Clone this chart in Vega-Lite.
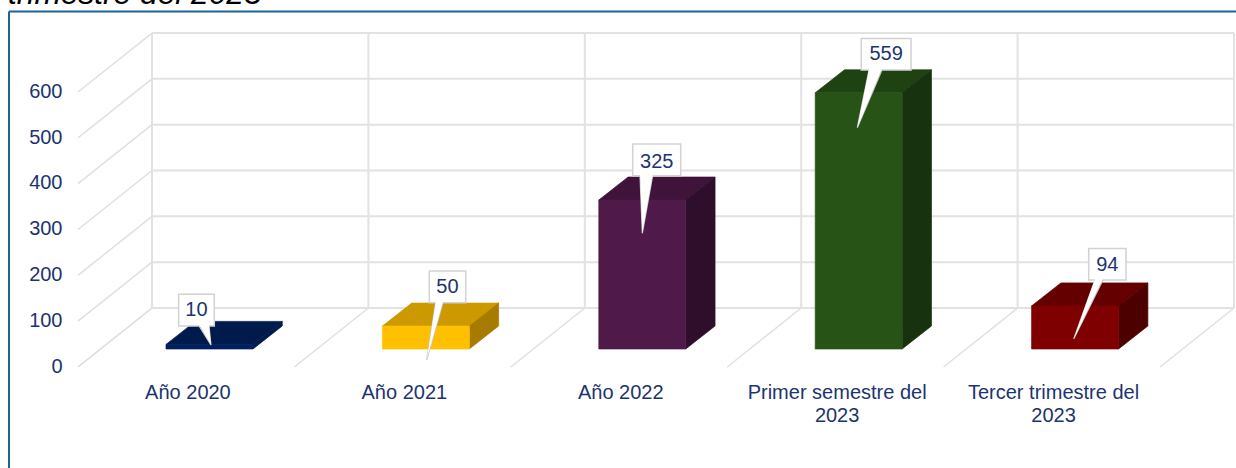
{
  "$schema": "https://vega.github.io/schema/vega-lite/v6.json",
  "width": 1236,
  "height": 468,
  "padding": 0,
  "autosize": {"type": "none"},
  "background": "#ffffff",
  "config": {
    "view": {"stroke": null},
    "axisX": {"disable": true},
    "axisY": {"title": null, "domain": false, "ticks": false, "grid": false, "labelFont": "Liberation Sans", "labelFontSize": 20, "labelColor": "#1c3470", "labelPadding": 0, "offset": -62, "labelOffset": -0.8}
  },
  "datasets": {
    "periodos": [
      {"periodo": "Año 2020", "orden": 0, "casos": 10},
      {"periodo": "Año 2021", "orden": 1, "casos": 50},
      {"periodo": "Año 2022", "orden": 2, "casos": 325},
      {"periodo": "Primer semestre del\n2023", "orden": 3, "casos": 559},
      {"periodo": "Tercer trimestre del\n2023", "orden": 4, "casos": 94}
    ],
    "niveles": [{"nivel": 0}, {"nivel": 100}, {"nivel": 200}, {"nivel": 300}, {"nivel": 400}, {"nivel": 500}, {"nivel": 600}],
    "paredes": [{"pared": 0}, {"pared": 1}, {"pared": 2}, {"pared": 3}, {"pared": 4}, {"pared": 5}]
  },
  "resolve": {"scale": {"color": "independent", "stroke": "independent"}},
  "layer": [
    {
      "description": "Back wall horizontal grid lines",
      "data": {"name": "niveles"},
      "transform": [{"calculate": "datum.nivel + 128.7", "as": "yFondo"}, {"calculate": "0.342", "as": "x0"}, {"calculate": "5.342", "as": "x1"}],
      "mark": {"type": "rule", "stroke": "#e2e2e2", "strokeWidth": 2},
      "encoding": {
        "x": {"field": "x0", "type": "quantitative", "scale": {"domain": [-0.3604, 5.3512], "nice": false, "zero": false}},
        "x2": {"field": "x1"},
        "y": {"field": "yFondo", "type": "quantitative", "scale": {"domain": [-220.4, 800.8], "nice": false, "zero": false}, "axis": {"values": [0, 100, 200, 300, 400, 500, 600]}}
      }
    },
    {
      "description": "Back wall verticals, one per category boundary",
      "data": {"name": "paredes"},
      "transform": [{"calculate": "datum.pared + 0.342", "as": "xFondo"}, {"calculate": "128.7", "as": "y0"}, {"calculate": "728.7", "as": "y1"}],
      "mark": {"type": "rule", "stroke": "#e2e2e2", "strokeWidth": 2},
      "encoding": {
        "x": {"field": "xFondo", "type": "quantitative"},
        "y": {"field": "y0", "type": "quantitative"},
        "y2": {"field": "y1"}
      }
    },
    {
      "description": "Left wall diagonals",
      "data": {"name": "niveles"},
      "transform": [{"calculate": "datum.nivel + 128.7", "as": "yFondo"}, {"calculate": "0", "as": "x0"}, {"calculate": "0.342", "as": "x1"}],
      "mark": {"type": "rule", "stroke": "#e0e0e0", "strokeWidth": 1.5},
      "encoding": {
        "x": {"field": "x0", "type": "quantitative"},
        "x2": {"field": "x1"},
        "y": {"field": "nivel", "type": "quantitative"},
        "y2": {"field": "yFondo"}
      }
    },
    {
      "description": "Floor diagonals",
      "data": {"name": "paredes"},
      "transform": [{"calculate": "datum.pared + 0.342", "as": "xFondo"}, {"calculate": "0", "as": "y0"}, {"calculate": "128.7", "as": "y1"}],
      "mark": {"type": "rule", "stroke": "#e0e0e0", "strokeWidth": 1.5},
      "encoding": {
        "x": {"field": "pared", "type": "quantitative"},
        "x2": {"field": "xFondo"},
        "y": {"field": "y0", "type": "quantitative"},
        "y2": {"field": "y1"}
      }
    },
    {
      "description": "Frame of the panel, top and left edges",
      "data": {"values": [{"xBorde": -0.3189, "yBorde": 775.7, "xFin": 5.3512, "yFin": -220.4}]},
      "mark": {"type": "rule", "stroke": "#1b6490", "strokeWidth": 2},
      "encoding": {
        "x": {"field": "xBorde", "type": "quantitative"},
        "x2": {"field": "xFin"},
        "y": {"field": "yBorde", "type": "quantitative"}
      }
    },
    {
      "data": {"values": [{"xBorde": -0.3189, "yBorde": 775.7, "yFin": -220.4}]},
      "mark": {"type": "rule", "stroke": "#1b6490", "strokeWidth": 2},
      "encoding": {
        "x": {"field": "xBorde", "type": "quantitative"},
        "y": {"field": "yBorde", "type": "quantitative"},
        "y2": {"field": "yFin"}
      }
    },
    {
      "description": "Last line of the heading above the panel",
      "data": {"values": [{"titulo": "trimestre del 2023", "xTitulo": -0.3235, "yTitulo": 793}]},
      "mark": {"type": "text", "font": "Liberation Sans", "fontStyle": "italic", "fontSize": 31.7, "color": "#000000", "align": "left", "baseline": "alphabetic"},
      "encoding": {
        "x": {"field": "xTitulo", "type": "quantitative"},
        "y": {"field": "yTitulo", "type": "quantitative"},
        "text": {"field": "titulo"}
      }
    },
    {
      "description": "Top face of each column",
      "data": {"name": "periodos"},
      "transform": [
        {"calculate": "[0, 1]", "as": "k"},
        {"flatten": ["k"]},
        {"calculate": "datum.orden + 0.4067 + datum.k * 0.1354", "as": "xA"},
        {"calculate": "datum.orden + 0.8085 + datum.k * 0.1354", "as": "xB"},
        {"calculate": "datum.casos + 39.3 + datum.k * 50.2", "as": "yT"}
      ],
      "mark": {"type": "area", "orient": "horizontal", "strokeWidth": 0.7},
      "encoding": {
        "y": {"field": "yT", "type": "quantitative"},
        "x": {"field": "xA", "type": "quantitative"},
        "x2": {"field": "xB"},
        "color": {"field": "orden", "type": "nominal", "legend": null, "scale": {"domain": [0, 1, 2, 3, 4], "range": ["#001a4c", "#cc9a00", "#3f133a", "#1f4212", "#650000"]}},
        "stroke": {"field": "orden", "type": "nominal", "legend": null, "scale": {"domain": [0, 1, 2, 3, 4], "range": ["#001a4c", "#cc9a00", "#3f133a", "#1f4212", "#650000"]}}
      }
    },
    {
      "description": "Side face of each column",
      "data": {"name": "periodos"},
      "transform": [
        {"calculate": "[0, 1]", "as": "k"},
        {"flatten": ["k"]},
        {"calculate": "datum.orden + 0.8085 + datum.k * 0.1354", "as": "xS"},
        {"calculate": "datum.casos + 39.3 + datum.k * 50.2", "as": "yT"},
        {"calculate": "39.3 + datum.k * 50.2", "as": "yB"}
      ],
      "mark": {"type": "area", "orient": "vertical", "strokeWidth": 0.7},
      "encoding": {
        "x": {"field": "xS", "type": "quantitative"},
        "y": {"field": "yT", "type": "quantitative"},
        "y2": {"field": "yB"},
        "color": {"field": "orden", "type": "nominal", "legend": null, "scale": {"domain": [0, 1, 2, 3, 4], "range": ["#001a4c", "#a67b00", "#2f0e2c", "#17320e", "#4c0000"]}},
        "stroke": {"field": "orden", "type": "nominal", "legend": null, "scale": {"domain": [0, 1, 2, 3, 4], "range": ["#001a4c", "#a67b00", "#2f0e2c", "#17320e", "#4c0000"]}}
      }
    },
    {
      "description": "Front face of each column",
      "data": {"name": "periodos"},
      "transform": [
        {"calculate": "datum.orden + 0.4067", "as": "xA"},
        {"calculate": "datum.orden + 0.8085", "as": "xB"},
        {"calculate": "datum.casos + 39.3", "as": "yT"},
        {"calculate": "39.3", "as": "yB"}
      ],
      "mark": {"type": "rect", "strokeWidth": 0.7},
      "encoding": {
        "x": {"field": "xA", "type": "quantitative"},
        "x2": {"field": "xB"},
        "y": {"field": "yT", "type": "quantitative"},
        "y2": {"field": "yB"},
        "color": {"field": "orden", "type": "nominal", "legend": null, "scale": {"domain": [0, 1, 2, 3, 4], "range": ["#002060", "#ffc000", "#4f1a4a", "#275317", "#7f0000"]}},
        "stroke": {"field": "orden", "type": "nominal", "legend": null, "scale": {"domain": [0, 1, 2, 3, 4], "range": ["#002060", "#ffc000", "#4f1a4a", "#275317", "#7f0000"]}}
      }
    },
    {
      "description": "Category labels under the floor",
      "data": {"name": "periodos"},
      "transform": [{"calculate": "datum.orden + 0.508", "as": "xEtiqueta"}, {"calculate": "-56", "as": "yEtiqueta"}],
      "mark": {"type": "text", "font": "Liberation Sans", "fontSize": 20, "color": "#1c3470", "baseline": "middle", "align": "center", "lineBreak": "\n", "lineHeight": 23},
      "encoding": {
        "x": {"field": "xEtiqueta", "type": "quantitative"},
        "y": {"field": "yEtiqueta", "type": "quantitative"},
        "text": {"field": "periodo"}
      }
    },
    {
      "description": "Callout boxes",
      "data": {"name": "periodos"},
      "transform": [
        {"calculate": "datum.orden + [0.4653, 0.6234, 0.5633, 0.6197, 0.6705][datum.orden]", "as": "cajaA"},
        {"calculate": "datum.orden + [0.6299, 0.7916, 0.7851, 0.8494, 0.8429][datum.orden]", "as": "cajaB"},
        {"calculate": "[89.5, 140.3, 417.4, 648.0, 189.8][datum.orden]", "as": "cajaY"},
        {"calculate": "datum.cajaY + 69", "as": "cajaT"}
      ],
      "mark": {"type": "rect", "fill": "#ffffff", "stroke": "#d2d2d2", "strokeWidth": 1.5},
      "encoding": {
        "x": {"field": "cajaA", "type": "quantitative"},
        "x2": {"field": "cajaB"},
        "y": {"field": "cajaY", "type": "quantitative"},
        "y2": {"field": "cajaT"}
      }
    },
    {
      "description": "Outline of the callout pointers",
      "data": {"name": "periodos"},
      "transform": [
        {"calculate": "[0, 1, 2]", "as": "k"},
        {"flatten": ["k"]},
        {"calculate": "datum.orden + [0.5591, 0.6530, 0.5970, 0.6553, 0.6996][datum.orden]", "as": "a"},
        {"calculate": "datum.orden + [0.6054, 0.6867, 0.6557, 0.7153, 0.7366][datum.orden]", "as": "b"},
        {"calculate": "datum.orden + [0.6146, 0.6114, 0.6077, 0.6012, 0.6012][datum.orden]", "as": "p"},
        {"calculate": "[89.5, 140.3, 417.4, 648.0, 189.8][datum.orden]", "as": "cajaY"},
        {"calculate": "[48.0, 15.3, 291.7, 522.1, 61.1][datum.orden]", "as": "puntaY"},
        {"calculate": "[datum.a, datum.p, datum.b][datum.k]", "as": "xL"},
        {"calculate": "[datum.cajaY, datum.puntaY, datum.cajaY][datum.k]", "as": "yL"}
      ],
      "mark": {"type": "line", "stroke": "#c4c4c4", "strokeWidth": 1.2},
      "encoding": {
        "x": {"field": "xL", "type": "quantitative"},
        "y": {"field": "yL", "type": "quantitative"},
        "detail": {"field": "orden"},
        "order": {"field": "k"}
      }
    },
    {
      "description": "White body of the callout pointers",
      "data": {"name": "periodos"},
      "transform": [
        {"calculate": "[0, 1]", "as": "k"},
        {"flatten": ["k"]},
        {"calculate": "datum.orden + [0.5591, 0.6530, 0.5970, 0.6553, 0.6996][datum.orden]", "as": "a"},
        {"calculate": "datum.orden + [0.6054, 0.6867, 0.6557, 0.7153, 0.7366][datum.orden]", "as": "b"},
        {"calculate": "datum.orden + [0.6146, 0.6114, 0.6077, 0.6012, 0.6012][datum.orden]", "as": "p"},
        {"calculate": "[89.5, 140.3, 417.4, 648.0, 189.8][datum.orden]", "as": "cajaY"},
        {"calculate": "[48.0, 15.3, 291.7, 522.1, 61.1][datum.orden]", "as": "puntaY"},
        {"calculate": "datum.a + datum.k * (datum.p - datum.a)", "as": "xA"},
        {"calculate": "datum.b + datum.k * (datum.p - datum.b)", "as": "xB"},
        {"calculate": "datum.cajaY + 2 + datum.k * (datum.puntaY - datum.cajaY - 2)", "as": "yT"}
      ],
      "mark": {"type": "area", "orient": "horizontal", "fill": "#ffffff"},
      "encoding": {
        "y": {"field": "yT", "type": "quantitative"},
        "x": {"field": "xA", "type": "quantitative"},
        "x2": {"field": "xB"},
        "detail": {"field": "orden"}
      }
    },
    {
      "description": "Value printed inside each callout",
      "data": {"name": "periodos"},
      "transform": [
        {"calculate": "datum.orden + ([0.4653, 0.6234, 0.5633, 0.6197, 0.6705][datum.orden] + [0.6299, 0.7916, 0.7851, 0.8494, 0.8429][datum.orden]) / 2", "as": "xT"},
        {"calculate": "[123.3, 173.5, 448.2, 682, 221.5][datum.orden]", "as": "yT"}
      ],
      "mark": {"type": "text", "font": "Liberation Sans", "fontSize": 20, "color": "#1c3470", "baseline": "middle", "align": "center"},
      "encoding": {
        "x": {"field": "xT", "type": "quantitative"},
        "y": {"field": "yT", "type": "quantitative"},
        "text": {"field": "casos", "type": "quantitative"}
      }
    }
  ]
}
